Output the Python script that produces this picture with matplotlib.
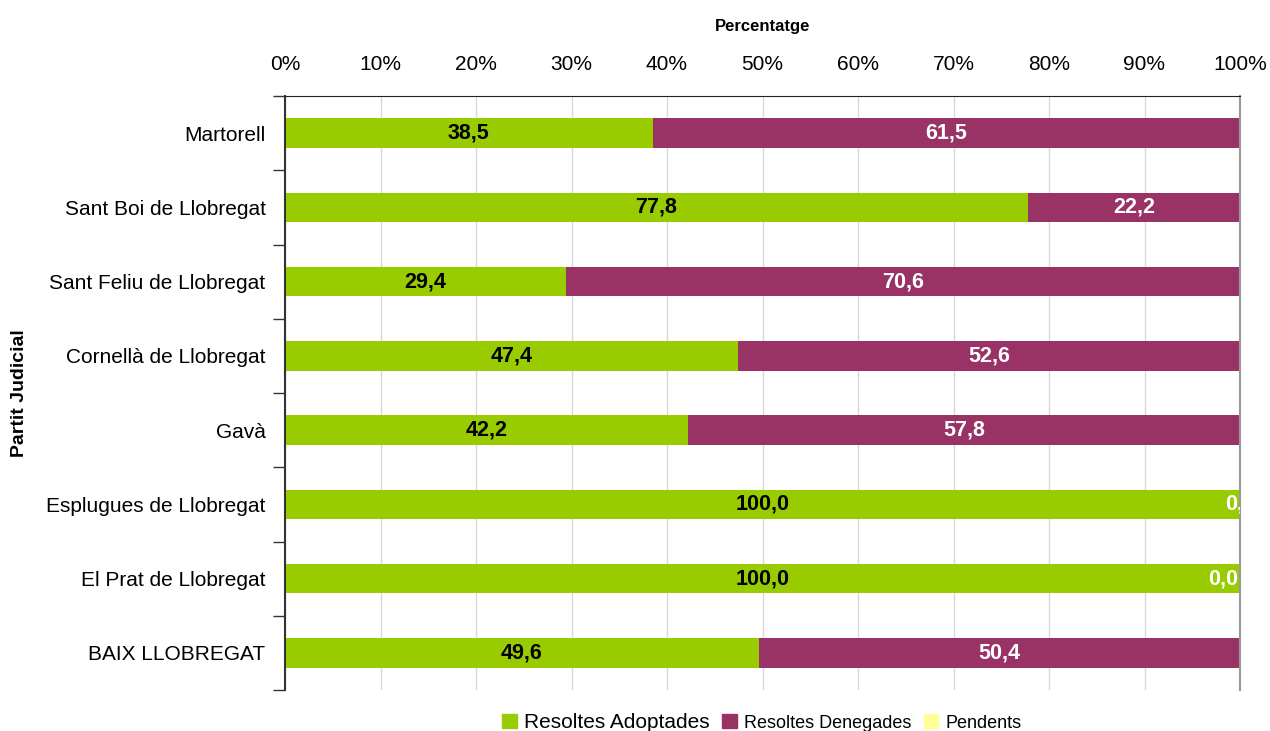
import matplotlib.pyplot as plt
import numpy as np
from matplotlib.patches import Patch

plt.rcParams['font.family'] = ['Liberation Sans Narrow', 'Liberation Sans', 'DejaVu Sans']

categories = ['Martorell', 'Sant Boi de Llobregat', 'Sant Feliu de Llobregat',
              'Cornellà de Llobregat', 'Gavà', 'Esplugues de Llobregat',
              'El Prat de Llobregat', 'BAIX LLOBREGAT']
adoptades = [38.5, 77.8, 29.4, 47.4, 42.2, 100.0, 100.0, 49.6]
denegades = [61.5, 22.2, 70.6, 52.6, 57.8, 0.0, 0.0, 50.4]
pendents = [0, 0, 0, 0, 0, 0, 0, 0]

c_green = '#99CC00'
c_red = '#993366'
c_yel = '#FFFF99'

fig = plt.figure(figsize=(12.7, 7.31), dpi=100)
ax = fig.add_axes([285 / 1270, 1 - 690 / 731, 955 / 1270, 594 / 731])

y = np.arange(len(categories))
ax.barh(y, adoptades, height=0.4, color=c_green, zorder=2)
ax.barh(y, denegades, left=adoptades, height=0.4, color=c_red, zorder=2)
ax.barh(y, pendents, left=np.add(adoptades, denegades), height=0.4, color=c_yel, zorder=2)

def fmt(v):
    return f'{v:.1f}'.replace('.', ',')

lbl = dict(ha='center', va='center', fontsize=15.5, fontweight='bold', zorder=3)
for i in range(len(categories)):
    a, d = adoptades[i], denegades[i]
    ax.text(a / 2, i, fmt(a), color='black', **lbl)
    if d > 0:
        ax.text(a + d / 2, i, fmt(d), color='white', **lbl)
    elif categories[i] == 'Esplugues de Llobregat':
        # label centred on the empty segment, cut by the axes edge
        ax.text(a + d / 2, i, fmt(d), color='white', clip_on=True, **lbl)
    else:
        ax.text(99.8, i, fmt(d), color='white',
                **{**lbl, 'ha': 'right'})

ax.set_xlim(0, 100)
ax.set_ylim(len(categories) - 0.5, -0.5)
ax.xaxis.tick_top()
ax.xaxis.set_label_position('top')
ax.set_xticks(np.arange(0, 101, 10))
ax.set_xticklabels([f'{t}%' for t in range(0, 101, 10)], fontsize=15)
ax.tick_params(axis='x', length=0, pad=16)
ax.set_xlabel('Percentatge', fontsize=12, fontweight='bold', labelpad=17)
ax.grid(axis='x', color='#d8d8d8', linewidth=1, zorder=0)

ax.set_yticks(y)
ax.set_yticklabels(categories, fontsize=15)
ax.set_yticks(np.arange(-0.5, len(categories)), minor=True)
ax.tick_params(axis='y', which='major', length=0, pad=14)
ax.tick_params(axis='y', which='minor', length=9, width=1, color='#333333')
fig.text(20 / 1270, 1 - 393 / 731, 'Partit Judicial', rotation=90, ha='center',
         va='center', fontsize=14, fontweight='bold')

ax.spines['bottom'].set_visible(False)
ax.spines['right'].set_color('#999999')
ax.spines['right'].set_linewidth(1.5)
ax.spines['top'].set_color('#222222')
ax.spines['left'].set_color('#333333')
ax.spines['left'].set_linewidth(1.5)

handles = [Patch(color=c_green), Patch(color=c_red), Patch(color=c_yel)]
leg = fig.legend(handles, ['Resoltes Adoptades', 'Resoltes Denegades', 'Pendents'],
                 loc='center', bbox_to_anchor=(762 / 1270, 1 - 722 / 731), ncol=3,
                 frameon=False, fontsize=13, handlelength=0.8, handleheight=0.8,
                 handletextpad=0.4, columnspacing=0.7)
leg.get_texts()[0].set_fontsize(15)

fig.savefig('out.png', dpi=100)
